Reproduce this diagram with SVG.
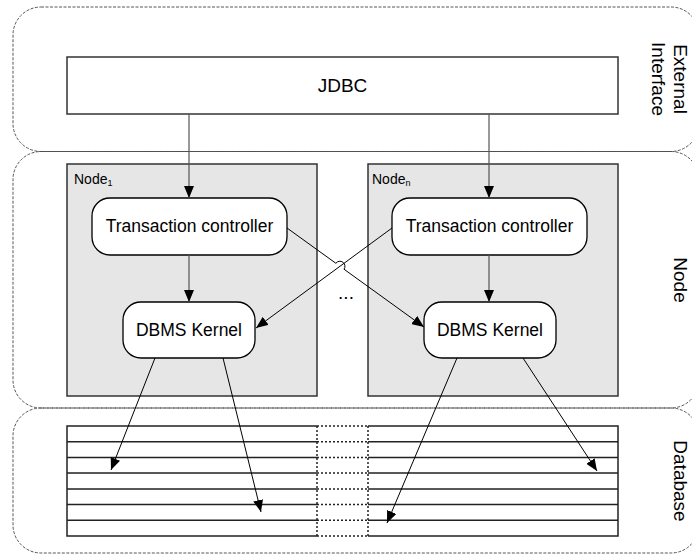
<svg xmlns="http://www.w3.org/2000/svg" width="692" height="554" viewBox="0 0 692 554">
<defs>
<style>
.layer{fill:none;stroke:#444;stroke-width:0.9;stroke-dasharray:3 1.5}
.lbl{font-family:"Liberation Sans",Arial,sans-serif;fill:#000}
.side{font-size:19px;text-anchor:middle}
.nodebox{fill:#e6e6e6;stroke:#333;stroke-width:1.5}
.rbox{fill:#fff;stroke:#000;stroke-width:1.3}
.conn{fill:none;stroke:#000;stroke-width:1}
.vconn{fill:none;stroke:#555;stroke-width:1.2}
.tbl{fill:none;stroke:#222;stroke-width:1.5}
.dot{fill:none;stroke:#222;stroke-width:1.5;stroke-dasharray:2 2}
</style>
<marker id="ah" viewBox="0 0 12 10" refX="12" refY="5" markerWidth="12" markerHeight="10" markerUnits="userSpaceOnUse" orient="auto">
<path d="M0,0 L12,5 L0,10 Z" fill="#000"/>
</marker>
</defs>
<rect width="692" height="554" fill="#fff"/>

<g id="layer-external">
<rect class="layer" x="13" y="7" width="686" height="144.5" rx="28" ry="28"/>
<text class="lbl side" transform="translate(674,79) rotate(90)">External</text>
<text class="lbl side" transform="translate(652,79) rotate(90)">Interface</text>
</g>
<g id="layer-node">
<rect class="layer" x="13" y="151.5" width="686" height="256.5" rx="28" ry="28"/>
<text class="lbl side" transform="translate(674,280) rotate(90)">Node</text>
</g>
<g id="layer-database">
<rect class="layer" x="13" y="408" width="686" height="145" rx="28" ry="28"/>
<text class="lbl side" transform="translate(674,481) rotate(90)">Database</text>
</g>

<g id="jdbc">
<rect x="67" y="57" width="551" height="57" fill="#fff" stroke="#333" stroke-width="1.5"/>
<text class="lbl" x="342.5" y="92" font-size="19" text-anchor="middle">JDBC</text>
</g>

<g id="node1">
<rect class="nodebox" x="67" y="164" width="250" height="232"/>
<text class="lbl" x="74" y="184" font-size="14">Node<tspan font-size="9" dy="2">1</tspan></text>
</g>
<g id="noden">
<rect class="nodebox" x="368" y="164" width="250" height="232"/>
<text class="lbl" x="372" y="184" font-size="14">Node<tspan font-size="9" dy="2">n</tspan></text>
</g>

<g id="tc1">
<rect class="rbox" x="92" y="198" width="195" height="57" rx="18" ry="18"/>
<text class="lbl" x="189.5" y="232" font-size="17.5" text-anchor="middle">Transaction controller</text>
</g>
<g id="tcn">
<rect class="rbox" x="392" y="198" width="195" height="57" rx="18" ry="18"/>
<text class="lbl" x="489.5" y="232" font-size="17.5" text-anchor="middle">Transaction controller</text>
</g>
<g id="dbms1">
<rect class="rbox" x="123" y="302" width="132" height="56" rx="18" ry="18"/>
<text class="lbl" x="189" y="336" font-size="17.5" text-anchor="middle">DBMS Kernel</text>
</g>
<g id="dbmsn">
<rect class="rbox" x="424" y="302" width="132" height="56" rx="18" ry="18"/>
<text class="lbl" x="490" y="336" font-size="17.5" text-anchor="middle">DBMS Kernel</text>
</g>

<text id="ellipsis" class="lbl" x="346" y="299" font-size="19" text-anchor="middle">...</text>

<g id="database">
<g id="db-left">
<path class="tbl" d="M317,426 H67 V536 H317 M67,441.7 H317 M67,457.4 H317 M67,473.1 H317 M67,488.9 H317 M67,504.6 H317 M67,520.3 H317"/>
</g>
<g id="db-gap">
<path class="dot" d="M317,426 V536 M368,426 V536 M317,426 H368 M317,441.7 H368 M317,457.4 H368 M317,473.1 H368 M317,488.9 H368 M317,504.6 H368 M317,520.3 H368 M317,536 H368"/>
</g>
<g id="db-right">
<path class="tbl" d="M368,426 H618 V536 H368 M368,441.7 H618 M368,457.4 H618 M368,473.1 H618 M368,488.9 H618 M368,504.6 H618 M368,520.3 H618"/>
</g>
</g>

<g id="connectors">
<line class="vconn" x1="189" y1="114" x2="189" y2="198" marker-end="url(#ah)"/>
<line class="vconn" x1="489" y1="114" x2="489" y2="198" marker-end="url(#ah)"/>
<line class="vconn" x1="189" y1="255" x2="189" y2="302" marker-end="url(#ah)"/>
<line class="vconn" x1="489" y1="255" x2="489" y2="302" marker-end="url(#ah)"/>
<path class="conn" d="M287,228 L335.9,263.3 A5,5 0 0 1 344,269.2 L424,327" marker-end="url(#ah)"/>
<line class="conn" x1="392" y1="228" x2="256" y2="328" marker-end="url(#ah)"/>
<line class="conn" x1="155" y1="358" x2="111" y2="470" marker-end="url(#ah)"/>
<line class="conn" x1="223" y1="358" x2="261" y2="512" marker-end="url(#ah)"/>
<line class="conn" x1="457" y1="358" x2="387" y2="523" marker-end="url(#ah)"/>
<line class="conn" x1="523" y1="358" x2="597" y2="471" marker-end="url(#ah)"/>
</g>
</svg>
